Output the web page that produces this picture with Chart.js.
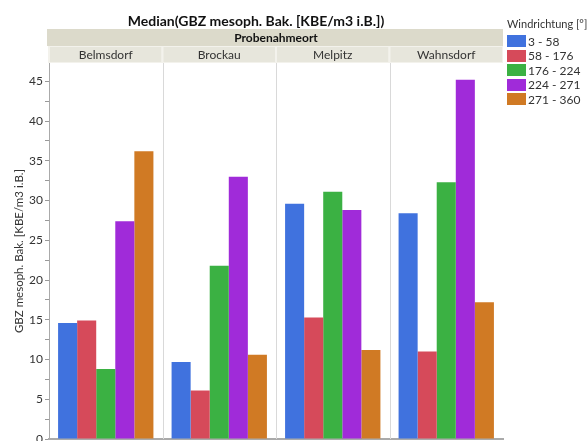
<!DOCTYPE html>
<html>
<head>
<meta charset="utf-8">
<script src="https://cdn.jsdelivr.net/npm/chart.js@4"></script>
<style>
  html, body { margin: 0; padding: 0; background: #fff; }
  #wrap { position: relative; width: 587px; height: 441px; }
  #legend { position: absolute; left: 507px; top: 17px; font-family: Lato, sans-serif; font-size: 12px; color: #333; }
  #legend .ttl { margin-bottom: 4px; white-space: nowrap; font-size: 11px; }
  #legend .it { display: flex; align-items: center; height: 14.5px; white-space: nowrap; }
  #legend .sw { width: 19px; height: 12px; margin-right: 2px; }
</style>
</head>
<body>
<div id="wrap">
  <canvas id="c" width="587" height="441"></canvas>
  <div id="legend"></div>
</div>
<script>
const orte = ['Belmsdorf', 'Brockau', 'Melpitz', 'Wahnsdorf'];
const richtungen = ['3 - 58', '58 - 176', '176 - 224', '224 - 271', '271 - 360'];
const farben = ['#4072de', '#d64a5a', '#3bb143', '#a02bd9', '#d07a24'];
const w3_58 = [14.6, 9.7, 29.6, 28.4];
const w58_176 = [14.9, 6.1, 15.3, 11.0];
const w176_224 = [8.8, 21.8, 31.1, 32.3];
const w224_271 = [27.4, 33.0, 28.8, 45.2];
const w271_360 = [36.2, 10.6, 11.2, 17.2];
const werte = [w3_58, w58_176, w176_224, w224_271, w271_360];

const FONT = "Lato, sans-serif";

// Legende
const leg = document.getElementById('legend');
leg.innerHTML = '<div class="ttl">Windrichtung [°]</div>' +
  richtungen.map((r, i) => `<div class="it"><div class="sw" style="background:${farben[i]}"></div>${r}</div>`).join('');

// Kopfzeilen + Trennlinien
const kopf = {
  id: 'kopf',
  beforeDatasetsDraw(chart) {
    const ctx = chart.ctx;
    const a = chart.chartArea;
    const x = chart.scales.x;
    ctx.save();
    ctx.strokeStyle = '#d9d9d9';
    ctx.lineWidth = 1;
    for (let i = 1; i < orte.length; i++) {
      const px = Math.round((x.getPixelForValue(i - 1) + x.getPixelForValue(i)) / 2) + 0.5;
      ctx.beginPath();
      ctx.moveTo(px, a.top);
      ctx.lineTo(px, a.bottom);
      ctx.stroke();
    }
    ctx.restore();
  },
  afterDraw(chart) {
    const ctx = chart.ctx;
    const a = chart.chartArea;
    const x = chart.scales.x;
    ctx.save();
    ctx.fillStyle = '#dcdacb';
    ctx.fillRect(a.left - 2, 29, a.right - a.left + 2, 17);
    ctx.fillStyle = '#111';
    ctx.font = 'bold 12px ' + FONT;
    ctx.textAlign = 'center';
    ctx.textBaseline = 'middle';
    ctx.fillText('Probenahmeort', (a.left + a.right) / 2, 38);
    const step = x.getPixelForValue(1) - x.getPixelForValue(0);
    orte.forEach((o, i) => {
      const c = x.getPixelForValue(i);
      ctx.fillStyle = '#f3f2ec';
      ctx.fillRect(c - step / 2 - 1, 46, step + 1, 17);
      ctx.fillStyle = '#e7e6dc';
      ctx.fillRect(c - step / 2 + 1, 47, step - 2, 15);
      ctx.fillStyle = '#333';
      ctx.font = '12px ' + FONT;
      ctx.fillText(o, c, 55);
    });
    ctx.fillStyle = '#111';
    ctx.font = 'bold 14px ' + FONT;
    ctx.fillText('Median(GBZ mesoph. Bak. [KBE/m3 i.B.])', 256, 21);
    ctx.restore();
  }
};

new Chart(document.getElementById('c'), {
  type: 'bar',
  data: {
    labels: orte,
    datasets: richtungen.map((r, i) => ({
      label: r,
      data: werte[i],
      backgroundColor: farben[i],
      borderWidth: 0,
      categoryPercentage: 0.84,
      barPercentage: 1.0
    }))
  },
  options: {
    responsive: false,
    animation: false,
    layout: { padding: { top: 63, right: 84, left: 0, bottom: 2 } },
    plugins: { legend: { display: false }, tooltip: { enabled: false } },
    scales: {
      x: {
        display: true,
        afterFit: s => { s.height = 0; },
        ticks: { display: false },
        grid: { display: false, drawTicks: false },
        border: { display: true, color: '#aaa', width: 2 }
      },
      y: {
        min: 0,
        max: 47.3,
        afterBuildTicks: s => { s.ticks = s.ticks.filter(t => Math.abs(t.value / 2.5 - Math.round(t.value / 2.5)) < 1e-6); },
        afterFit: s => { s.width = 49; s.paddingTop = 0; s.paddingBottom = 0; },
        ticks: {
          stepSize: 2.5,
          font: { family: FONT, size: 12 },
          color: '#333',
          padding: 2,
          callback: v => (v % 5 === 0 ? v : '')
        },
        grid: { drawOnChartArea: false, tickLength: 4, color: '#999' },
        border: { display: true, color: '#aaa', width: 1 },
        title: {
          display: true,
          text: 'GBZ mesoph. Bak. [KBE/m3 i.B.]',
          font: { family: FONT, size: 11.5 },
          color: '#333',
          padding: { top: 12, bottom: 0 }
        }
      }
    }
  },
  plugins: [kopf]
});
</script>
</body>
</html>
